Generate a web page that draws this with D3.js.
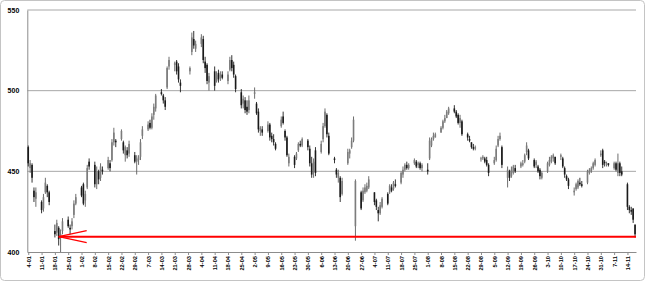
<!DOCTYPE html>
<html>
<head>
<meta charset="utf-8">
<script src="https://cdn.jsdelivr.net/npm/d3@7"></script>
<style>
  body { margin: 0; background: #fff; }
  svg { display: block; font-family: "Liberation Sans", Arial, sans-serif; }
</style>
</head>
<body>
<div id="chart"></div>
<script>
// Monday of each week shown on the axis (2016)
const weekLabels = ["4-01","11-01","18-01","25-01","1-02","8-02","15-02","22-02","29-02","7-03",
  "14-03","21-03","28-03","4-04","11-04","18-04","25-04","2-05","9-05","16-05","23-05","30-05",
  "6-06","13-06","20-06","27-06","4-07","11-07","18-07","25-07","1-08","8-08","15-08","22-08",
  "29-08","5-09","12-09","19-09","26-09","3-10","10-10","17-10","24-10","31-10","7-11","14-11"];
// no trading on these days
const holidays = ["25-03","28-03"];
const yTicks = [400, 450, 500, 550];
const supportLevel = 409.5;
const arrowDay = "20-01";

// daily [open, high, low, close], one line per week
const ohlc = [
  [465,466,453,455],[452,457,449,455],[454,455,443,446],[438,440,431,434],[433,440,428,437],
  [431,432,424,426],[427,436,425,434],[437,446,436,443],[441,442,434,437],[437,438,429,431],
  [413,417,409,411],[412,420,410,418],[415,416,404,408],[409,414,400,411],[413,421,411,419],
  [420,422,415,416],[415,417,411,414],[416,421,414,419],[423,432,421,430],[430,436,429,434],
  [440,441,434,435],[442,443,429,430],[432,438,428,436],[440,454,439,452],[456,458,451,453],
  [454,456,440,442],[442,453,439,450],[450,451,442,445],[446,455,444,453],[451,453,448,450],
  [452,459,451,457],[455,457,450,452],[457,470,456,468],[468,477,466,474],[469,470,465,468],
  [470,476,469,475],[468,469,461,463],[460,466,456,465],[463,465,458,460],[461,469,459,467],
  [460,462,455,456],[456,460,448,458],[457,460,454,459],[459,470,457,468],[472,478,470,476],
  [476,481,475,479],[480,482,476,477],[477,486,476,484],[485,492,482,490],[489,498,487,497],
  [499,501,497,498],[497,498,492,494],[494,496,488,490],[502,515,501,514],[515,521,513,519],
  [516,518,512,517],[518,519,510,512],[515,517,505,507],[505,507,499,503],
  [512,515,510,514],[524,536,522,533],[532,537,526,528],[526,531,524,529],
  [529,535,527,533],[532,534,517,519],[518,521,511,514],[516,517,504,506],[505,511,500,509],
  [512,515,500,503],[506,512,505,510],[511,513,505,507],[508,512,506,510],[510,512,507,508],
  [506,512,504,510],[513,521,512,519],[519,522,512,514],[516,518,508,510],[509,510,499,501],
  [499,501,489,491],[492,497,489,495],[494,496,486,488],[490,494,485,487],[488,497,486,494],
  [498,502,495,499],[492,493,485,486],[487,489,474,476],[475,478,472,477],[476,478,472,474],
  [475,481,474,479],[479,480,469,471],[472,474,468,470],[470,473,466,468],[467,468,463,464],
  [478,484,477,482],[484,487,479,480],[475,476,469,471],[471,472,459,460],[455,461,453,459],
  [459,460,452,454],[458,462,457,461],[463,468,462,467],[467,469,465,466],[466,471,465,470],
  [469,470,463,465],[464,466,453,455],[455,459,446,448],[450,458,446,456],[463,465,447,449],
  [462,469,461,467],[470,480,468,478],[478,489,477,487],[485,486,471,473],[472,474,460,461],
  [458,459,455,457],[451,452,446,448],[446,451,443,449],[446,447,431,434],[436,446,435,444],
  [455,464,454,462],[461,464,458,463],[465,471,464,469],[469,484,468,482],[416,445,407,444],
  [437,438,426,427],[432,440,431,438],[437,442,436,440],[438,443,437,441],[440,447,439,445],
  [437,437,429,431],[432,433,426,428],[426,428,419,424],[424,431,423,429],[428,434,427,433],
  [436,437,429,430],[437,442,436,441],[440,442,437,438],[439,444,438,443],[442,445,440,441],
  [443,450,442,449],[448,453,446,451],[451,455,450,454],[454,456,451,452],[452,455,451,454],
  [455,458,454,457],[456,457,452,453],[454,456,452,455],[455,456,451,452],[452,455,450,454],
  [451,455,448,450],[458,471,457,469],[466,471,465,470],[470,474,469,472],[471,474,471,473],
  [474,478,474,477],[477,482,476,481],[481,485,480,483],[483,488,483,487],[486,490,485,489],
  [489,491,486,487],[487,488,483,484],[485,486,479,480],[480,485,477,483],[481,482,472,473],
  [473,474,469,471],[470,472,468,469],[468,468,464,465],[465,467,463,464],[464,466,463,465],
  [458,459,456,458],[458,460,457,459],[458,459,455,456],[457,459,453,454],[454,455,447,449],
  [455,459,454,457],[457,466,456,464],[466,472,465,470],[470,474,469,472],[465,466,452,454],
  [446,453,440,451],[450,451,444,446],[447,453,446,451],[449,454,448,453],[452,454,449,450],
  [453,456,452,455],[454,457,453,455],[456,461,455,460],[462,468,460,466],[463,464,457,458],
  [457,458,452,453],[454,457,452,456],[453,454,449,450],[451,452,445,447],[446,450,445,449],
  [450,456,449,455],[454,459,453,457],[456,460,455,459],[458,461,456,460],[459,459,454,455],
  [459,461,457,460],[458,459,452,453],[452,453,446,448],[447,448,444,445],[445,446,439,441],
  [437,440,435,438],[439,443,438,442],[440,445,439,444],[443,446,441,442],[442,444,440,441],
  [443,451,442,450],[449,452,448,451],[450,453,449,452],[452,456,451,455],[454,458,453,457],
  [460,463,459,461],[463,464,452,454],[456,457,453,455],[454,456,453,455],[455,455,453,454],
  [452,456,451,455],[455,456,450,451],[449,461,447,455],[455,456,447,449],[450,453,447,448],
  [442,443,426,428],[428,429,424,426],[426,428,423,425],[427,427,418,420],[417,417,409,411]
];

const width = 645, height = 281;
const margin = {top: 10, right: 9, bottom: 29, left: 27.3};

const parseDay = s => d3.utcParse("%d-%m-%Y")(s + "-2016");
const fmtDay = d3.utcFormat("%-d-%m");
const mondays = weekLabels.map(parseDay);

// trading days: Mon-Fri of every labelled week, minus holidays
const days = [];
mondays.forEach(m => {
  for (let k = 0; k < 5; k++) {
    const d = d3.utcDay.offset(m, k);
    if (!holidays.includes(fmtDay(d))) days.push(d);
  }
});
const candles = days.map((d, i) => ({date: d, o: ohlc[i][0], h: ohlc[i][1], l: ohlc[i][2], c: ohlc[i][3]}));

const svg = d3.select("#chart").append("svg")
    .attr("width", width)
    .attr("height", height);

// chart area border
svg.append("rect")
    .attr("x", 0.5).attr("y", 0.5)
    .attr("width", width - 1).attr("height", height - 1)
    .attr("rx", 4)
    .attr("fill", "#fff")
    .attr("stroke", "#c4c4c4");

const x = d3.scaleUtc()
    .domain([d3.utcHour.offset(days[0], -12), d3.utcHour.offset(days[days.length - 1], 12)])
    .range([margin.left, width - margin.right]);
const y = d3.scaleLinear()
    .domain([400, 550])
    .range([height - margin.bottom, margin.top]);

// gridlines
svg.append("g")
  .selectAll("line")
  .data(yTicks.slice(1))
  .join("line")
    .attr("x1", margin.left).attr("x2", width - margin.right)
    .attr("y1", d => y(d)).attr("y2", d => y(d))
    .attr("stroke", "#a8a8a8").attr("stroke-width", 1);

// y axis
const yAxis = svg.append("g")
    .attr("transform", `translate(${margin.left},0)`)
    .call(d3.axisLeft(y).tickValues(yTicks).tickSize(0).tickPadding(8).tickFormat(d3.format("d")));
yAxis.select(".domain").attr("stroke", "#8c8c8c");
yAxis.selectAll("text").attr("font-size", 7).attr("font-weight", "bold").attr("fill", "#000");

// x axis
const xAxis = svg.append("g")
    .attr("transform", `translate(0,${height - margin.bottom})`)
    .call(d3.axisBottom(x).tickValues(mondays).tickSize(3).tickSizeOuter(0).tickFormat(fmtDay));
xAxis.select(".domain").attr("stroke", "#8c8c8c");
xAxis.selectAll(".tick line").attr("stroke", "#8c8c8c");
xAxis.selectAll("text")
    .attr("font-size", 5.7)
    .attr("font-weight", "bold")
    .attr("fill", "#000")
    .attr("text-anchor", "end")
    .attr("transform", "rotate(-90)")
    .attr("x", -4)
    .attr("y", 0)
    .attr("dy", "0.35em");

// candles
const bodyW = 1.6;
const g = svg.append("g");
g.selectAll(".wick")
  .data(candles)
  .join("line")
    .attr("class", "wick")
    .attr("x1", d => x(d.date)).attr("x2", d => x(d.date))
    .attr("y1", d => y(d.h)).attr("y2", d => y(d.l))
    .attr("stroke", d => d.c >= d.o ? "#5e5e5e" : "#1e1e1e")
    .attr("stroke-width", 0.9);
g.selectAll(".body")
  .data(candles)
  .join("rect")
    .attr("class", "body")
    .attr("x", d => x(d.date) - bodyW / 2)
    .attr("width", bodyW)
    .attr("y", d => y(Math.max(d.o, d.c)))
    .attr("height", d => Math.max(0.8, Math.abs(y(d.o) - y(d.c))))
    .attr("fill", d => d.c >= d.o ? "#7c7c7c" : "#1a1a1a");

// support line with arrow
const red = "#ff0000";
const tipX = x(parseDay(arrowDay)), lineY = y(supportLevel);
svg.append("line")
    .attr("x1", tipX).attr("x2", width - margin.right)
    .attr("y1", lineY).attr("y2", lineY)
    .attr("stroke", red).attr("stroke-width", 2);
svg.append("path")
    .attr("d", `M${tipX + 28},${lineY - 6}L${tipX},${lineY}L${tipX + 28},${lineY + 6}`)
    .attr("fill", "none")
    .attr("stroke", red)
    .attr("stroke-width", 1.4);
</script>
</body>
</html>
